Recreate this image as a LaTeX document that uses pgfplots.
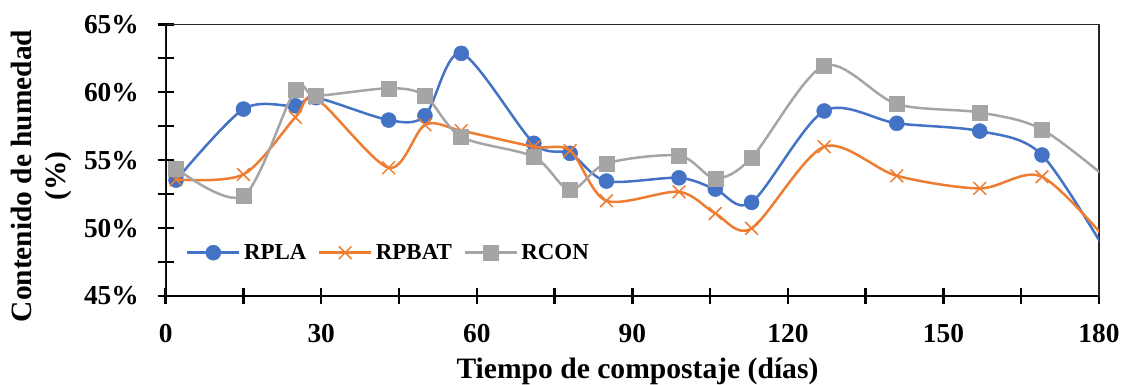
\documentclass[border=0pt]{standalone}
\usepackage{fontspec}
\setmainfont{Liberation Serif}
\usepackage{pgfplots}
\pgfplotsset{compat=1.18}
\definecolor{cblue}{HTML}{4472C4}
\definecolor{corange}{HTML}{ED7D31}
\definecolor{cgray}{HTML}{A5A5A5}
\begin{document}
\begin{tikzpicture}
\begin{axis}[
  name=ax, at={(0,0)}, anchor=south west,
  scale only axis, width=933.3bp, height=271.7bp,
  xmin=0, xmax=180, ymin=45, ymax=65,
  xtick={0,30,...,180}, xticklabels={0,30,60,90,120,150,180},
  minor xtick={15,45,...,165},
  ytick={45,50,...,65}, yticklabels={45\%,50\%,55\%,60\%,65\%},
  minor ytick={47.5,52.5,57.5,62.5},
  xtick pos=bottom, ytick pos=left,
  tick align=center,
  major tick length=16bp, minor tick length=16bp,
  tick style={black, line width=2.4bp},
  axis line style={black!85, line width=1.3bp},
  tick label style={font=\fontsize{27.5}{30}\selectfont\bfseries},
  xticklabel style={inner sep=0pt, anchor=north, yshift=-20bp},
  yticklabel style={inner sep=0pt, anchor=east, xshift=-18.7bp},
  xlabel={Tiempo de compostaje (días)},
  ylabel={Contenido de humedad\\(\%)},
  every axis x label/.style={at={(axis description cs:0.5055,-0.276)}, anchor=center,
    font=\fontsize{29.7}{34.5}\selectfont\bfseries},
  every axis y label/.style={at={(axis description cs:-0.1331,0.4417)}, anchor=center, rotate=90, align=center,
    font=\fontsize{29.5}{34.5}\selectfont\bfseries},
  clip marker paths=true,
  legend columns=3,
  legend style={draw=none, fill=none, at={(axis description cs:0.0218,0.1594)}, anchor=west,
    font=\fontsize{23}{26}\selectfont\bfseries, inner sep=0pt, outer sep=0pt,
    nodes={inner sep=3.5bp},
    /tikz/every even column/.append style={column sep=8bp}},
  legend image code/.code={\draw[mark repeat=2,mark phase=2,#1] plot coordinates {(0bp,0bp) (26bp,0bp) (52bp,0bp)};},
]
\addplot[cblue, line width=2.5bp, smooth, tension=0.5, mark=*, mark size=7.5bp,
  mark options={solid, fill=cblue, draw=cblue, line width=0.5bp}] coordinates {
(2,53.53) (15,58.76) (25,59.0) (29,59.6) (43,57.95) (50,58.27) (57,62.86) (71,56.24)
(78,55.5) (85,53.46) (99,53.7) (106,52.87) (113,51.89) (127,58.62) (141,57.71)
(157,57.14) (169,55.38) (183,47.2)};
\addlegendentry{RPLA}
\addplot[corange, line width=2.5bp, smooth, tension=0.5, mark=x, mark size=9bp,
  mark options={solid, draw=corange, line width=1.5bp}] coordinates {
(2,53.58) (15,53.95) (25,58.15) (29,59.55) (43,54.44) (50,57.6) (57,57.17) (71,55.99)
(78,55.7) (85,52.01) (99,52.67) (106,51.08) (113,49.98) (127,55.99) (141,53.85)
(157,52.92) (169,53.78) (183,48.45)};
\addlegendentry{RPBAT}
\addplot[cgray, line width=2.5bp, smooth, tension=0.5, mark=square*, mark size=7.5bp,
  mark options={solid, fill=cgray, draw=cgray, line width=0.5bp}] coordinates {
(2,54.4) (15,52.36) (25,60.21) (29,59.74) (43,60.29) (50,59.74) (57,56.72) (71,55.25)
(78,52.8) (85,54.76) (99,55.33) (106,53.66) (113,55.18) (127,61.95) (141,59.13)
(157,58.51) (169,57.27) (183,53.2)};
\addlegendentry{RCON}
\draw[black, line width=3bp] (rel axis cs:0,1) -- (rel axis cs:0,0) -- (rel axis cs:1,0);
\end{axis}
\pgfresetboundingbox
\path ([xshift=-165.7bp,yshift=-89bp]ax.south west) rectangle ([xshift=24bp,yshift=24.3bp]ax.north east);
\end{tikzpicture}
\end{document}
